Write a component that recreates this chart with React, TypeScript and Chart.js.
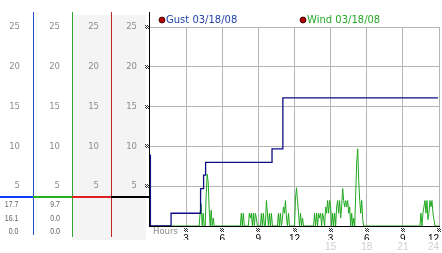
import React, { useEffect, useRef } from 'react';
import { Chart, registerables } from 'chart.js';

Chart.register(...registerables);

// ---------------- data ----------------
// minutes since midnight (0..1440) and values
const gustMinutes = [0, 2, 105, 252, 267, 277, 608, 662, 1435];
const gustValues = [8.9, 0, 1.6, 4.7, 6.4, 8.0, 9.7, 16.1, 16.1];

const windMinutes = [
  0, 245, 250, 255, 260, 265, 270, 275, 280, 285, 290, 295, 300, 305, 310, 315, 320,
  450, 455, 460, 465, 470, 490, 495, 500, 505, 510, 515, 520, 525, 530, 535,
  550, 555, 560, 565, 570, 575, 580, 585, 590, 595, 600, 605, 610,
  635, 640, 645, 650, 655, 660, 665, 670, 675, 680, 685, 690, 695,
  720, 725, 730, 735, 740, 745, 750, 755, 760, 765,
  815, 820, 825, 830, 835, 840, 845, 850, 855, 860, 865, 870, 875, 880, 885, 890, 895,
  900, 905, 910, 915, 920, 925, 930, 935, 940, 945, 950, 955, 960, 965, 970, 975, 980,
  985, 990, 995, 1000, 1005, 1010, 1015, 1020, 1025, 1030, 1035, 1040, 1045, 1050, 1055,
  1060, 1065,
  1345, 1350, 1355, 1360, 1365, 1370, 1375, 1380, 1385, 1390, 1395, 1400, 1405, 1410,
  1415, 1420, 1440,
];
const windValues = [
  0, 0, 1.8, 2.8, 0, 1.6, 0, 0, 4, 6.5, 5.5, 2, 0, 2, 0, 1, 0,
  0, 1.6, 0, 1.6, 0, 0, 1.6, 1, 1.6, 0, 1.6, 0, 1.6, 1, 0,
  0, 1.6, 0, 1.6, 0, 0, 3.2, 1.6, 0, 1.6, 0, 1.6, 0,
  0, 1.6, 0, 1.6, 0, 1, 2.4, 1.6, 3.2, 1, 0, 1.6, 0,
  0, 3.5, 4.8, 3.2, 1.6, 0, 1.6, 0, 1, 0,
  0, 1.6, 0, 1.6, 0, 1.6, 1, 1.6, 0, 1.6, 1, 0, 2.4, 1.6, 3.2, 1.6, 3.2,
  2.4, 0, 1.6, 0, 1.6, 0, 2.4, 3.2, 1.6, 3.2, 1, 2.4, 4.7, 3.2, 2.4, 3.2, 2.4,
  3.2, 1.6, 2.4, 0, 1.6, 0, 1, 0, 4, 8, 9.7, 5.7, 3.2, 1.6, 3.2,
  0.8, 0,
  0, 1.6, 0, 1.6, 2.4, 3.2, 1.6, 3.2, 0.8, 1.6, 3.2, 2.4, 3.2, 1.6,
  0.8, 0, 0,
];

const hourTickLabels = ['3', '6', '9', '12', '3', '6', '9', '12'];
const secondDayLabels = ['15', '18', '21', '24'];
const gustStats = ['17.7', '16.1', '0.0'];
const windStats = ['9.7', '0.0', '0.0'];
const legendLabels = ['Gust 03/18/08', 'Wind 03/18/08'];
const axisLabel = 'Hours';
const separatorValue = 3.65;

// ---------------- styles ----------------
const GUST_COLOR = '#0d0d85';
const WIND_COLOR = '#1fa81f';
const BLUE_AXIS = '#2452c8';
const GREEN_AXIS = '#30a530';
const RED_AXIS = '#c02525';
const GRID = '#b5b5b5';
const TICK_GRAY = '#8c8c8c';

function drawMark(ctx: CanvasRenderingContext2D, cx: number, cy: number) {
  ctx.fillStyle = '#333';
  const x0 = Math.round(cx) - 2;
  const y0 = Math.round(cy) - 2;
  for (let i = 0; i < 4; i++) {
    for (let j = 0; j < 4; j++) {
      if ((i + j) % 2 === 0) ctx.fillRect(x0 + i, y0 + j, 1, 1);
    }
  }
}

const decorPlugin = {
  id: 'decor',
  beforeDraw(chart: any) {
    const { ctx, chartArea: ca, scales } = chart;
    const yC = scales.yC;
    ctx.save();
    ctx.fillStyle = '#f4f4f4';
    ctx.fillRect(yC.left, ca.top - 12, ca.left - 4 - yC.left, ca.bottom + 14 - (ca.top - 12));
    ctx.restore();
  },
  afterDraw(chart: any) {
    const { ctx, chartArea: ca, scales } = chart;
    const { yA, yB, yC, y, x } = scales;
    ctx.save();
    const top = ca.top - 15;
    // vertical axis lines
    ctx.fillStyle = BLUE_AXIS;
    ctx.fillRect(yA.right, top, 1, ca.bottom + 9 - top);
    ctx.fillStyle = GREEN_AXIS;
    ctx.fillRect(yB.right, top, 1, ca.bottom + 11 - top);
    ctx.fillStyle = RED_AXIS;
    ctx.fillRect(yC.right, top, 1, ca.bottom + 11 - top);
    ctx.fillStyle = '#000';
    ctx.fillRect(ca.left - 1, top, 1, ca.bottom + 1 - top);
    ctx.fillRect(ca.left - 1, ca.bottom, ca.right - ca.left + 2, 1);

    // separator line
    const sy = Math.round(y.getPixelForValue(separatorValue)) - 1;
    ctx.fillStyle = '#0b3cff';
    ctx.fillRect(yA.left, sy, yA.right - yA.left, 2);
    ctx.fillStyle = '#22b022';
    ctx.fillRect(yB.left, sy, yB.right - yB.left, 2);
    ctx.fillStyle = '#e02020';
    ctx.fillRect(yC.left, sy, yC.right - yC.left, 2);
    ctx.fillStyle = '#000';
    ctx.fillRect(y.left, sy, y.right - y.left - 1, 2);

    // stats
    ctx.fillStyle = '#666';
    ctx.font = '9px "Liberation Sans", sans-serif';
    ctx.textAlign = 'right';
    ctx.textBaseline = 'middle';
    const rows = [ca.bottom - 21, ca.bottom - 7.5, ca.bottom + 6];
    const drawNarrow = (t: string, rx: number, cy: number) => {
      ctx.save();
      ctx.translate(rx, cy);
      ctx.scale(0.78, 1);
      ctx.fillText(t, 0, 0);
      ctx.restore();
    };
    gustStats.forEach((t, i) => drawNarrow(t, yA.right - 14.5, rows[i]));
    windStats.forEach((t, i) => drawNarrow(t, yB.right - 12, rows[i]));

    // tick marks
    y.ticks.forEach((t: any) => {
      if (t.value > 0) drawMark(ctx, ca.left - 3.5, y.getPixelForValue(t.value));
    });
    x.ticks.forEach((t: any) => {
      if (t.value > 0) drawMark(ctx, x.getPixelForValue(t.value), ca.bottom + 4);
    });

    // Hours label
    ctx.fillStyle = '#8a8a8a';
    ctx.font = '8.5px "DejaVu Sans", sans-serif';
    ctx.textAlign = 'left';
    ctx.textBaseline = 'middle';
    ctx.fillText(axisLabel, ca.left + 3, ca.bottom + 5.5);

    // legend
    const legendY = ca.top - 7;
    const items = [
      { text: legendLabels[0], color: '#1f3fa8', dx: 12 },
      { text: legendLabels[1], color: '#25a825', dx: 153 },
    ];
    ctx.font = '10px "DejaVu Sans", sans-serif';
    items.forEach((it) => {
      const cx = ca.left + it.dx;
      ctx.beginPath();
      ctx.arc(cx, legendY, 3, 0, Math.PI * 2);
      ctx.fillStyle = '#b00000';
      ctx.fill();
      ctx.lineWidth = 0.8;
      ctx.strokeStyle = '#300';
      ctx.stroke();
      ctx.fillStyle = it.color;
      ctx.fillText(it.text, cx + 4, legendY + 0.5);
    });
    ctx.restore();
  },
};

function sideAxis(weight: number, width: number, padding: number) {
  return {
    type: 'linear',
    position: 'left',
    weight,
    min: 0,
    max: 25,
    ticks: {
      stepSize: 5,
      padding,
      color: TICK_GRAY,
      font: { family: 'DejaVu Sans', size: 8.5 },
      callback: (v: any) => (v === 0 ? '' : String(v)),
    },
    grid: { display: false, drawTicks: false },
    border: { display: false },
    afterFit: (s: any) => {
      s.width = width;
    },
  };
}

export default function App() {
  const ref = useRef<HTMLCanvasElement>(null);

  useEffect(() => {
    document.body.style.margin = '0';
    const canvas = ref.current;
    if (!canvas) return;
    const chart = new Chart(canvas, {
      type: 'line',
      data: {
        datasets: [
          {
            label: legendLabels[0],
            data: gustMinutes.map((m, i) => ({ x: m, y: gustValues[i] })),
            borderColor: GUST_COLOR,
            borderWidth: 1.3,
            pointRadius: 0,
            stepped: true,
            fill: false,
          },
          {
            label: legendLabels[1],
            data: windMinutes.map((m, i) => ({ x: m, y: windValues[i] })),
            borderColor: WIND_COLOR,
            borderWidth: 1,
            pointRadius: 0,
            tension: 0,
            fill: false,
          },
        ],
      },
      options: {
        responsive: false,
        animation: false,
        devicePixelRatio: 1,
        events: [],
        layout: { padding: { top: 27, right: 3, left: 0, bottom: 0 } },
        plugins: { legend: { display: false }, tooltip: { enabled: false } },
        scales: {
          x: {
            type: 'linear',
            position: 'bottom',
            weight: 0,
            min: 0,
            max: 1440,
            ticks: {
              stepSize: 180,
              autoSkip: false,
              maxRotation: 0,
              align: 'inner',
              padding: 7,
              color: '#000',
              font: { family: 'Liberation Sans', size: 10 },
              callback: (v: any) => {
                const i = Math.round(v / 180);
                return i >= 1 ? hourTickLabels[i - 1] : '';
              },
            },
            grid: {
              drawTicks: false,
              color: (c: any) => (c.tick && c.tick.value === 0 ? 'rgba(0,0,0,0)' : GRID),
            },
            border: { display: false },
            afterFit: (s: any) => {
              s.height = 14;
              s.paddingLeft = 0;
              s.paddingRight = 0;
            },
          },
          x2: {
            type: 'linear',
            position: 'bottom',
            weight: 1,
            min: 0,
            max: 1440,
            ticks: {
              stepSize: 180,
              autoSkip: false,
              maxRotation: 0,
              align: 'inner',
              padding: 1,
              color: '#cfcfcf',
              font: { family: 'Liberation Sans', size: 10 },
              callback: (v: any) => {
                const i = Math.round(v / 180);
                return i >= 5 ? secondDayLabels[i - 5] : '';
              },
            },
            grid: { display: false, drawTicks: false },
            border: { display: false },
            afterFit: (s: any) => {
              s.height = 13;
              s.paddingLeft = 0;
              s.paddingRight = 0;
            },
          },
          yA: sideAxis(3, 33, 13),
          yB: sideAxis(2, 39, 12),
          yC: sideAxis(1, 39, 12),
          y: {
            ...sideAxis(0, 39, 13),
            grid: {
              display: true,
              drawTicks: false,
              color: (c: any) => (c.tick && c.tick.value === 0 ? 'rgba(0,0,0,0)' : GRID),
            },
          },
        },
      } as any,
      plugins: [decorPlugin],
    });
    return () => chart.destroy();
  }, []);

  return (
    <div style={{ position: 'absolute', left: 0, top: 0, width: 442, height: 253, background: '#fff' }}>
      <canvas ref={ref} width={442} height={253} style={{ display: 'block' }} />
    </div>
  );
}
